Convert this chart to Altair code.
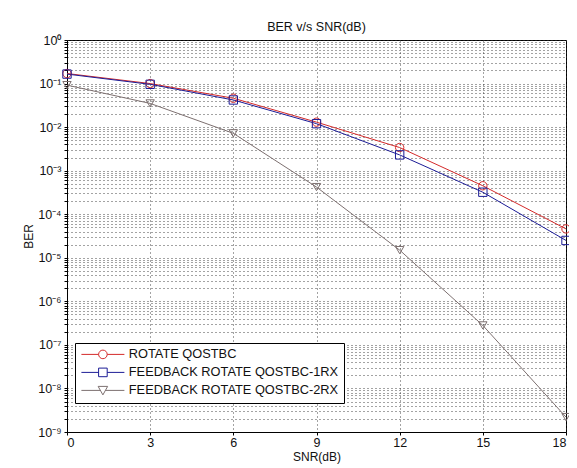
import altair as alt
import pandas as pd

# ---- data ----
snr = [0, 3, 6, 9, 12, 15, 18]
series_names = ["ROTATE QOSTBC", "FEEDBACK ROTATE QOSTBC-1RX", "FEEDBACK ROTATE QOSTBC-2RX"]
ber_rotate = [0.17, 0.10, 0.046, 0.013, 0.0034, 4.5e-4, 4.6e-5]
ber_fb_1rx = [0.165, 0.096, 0.042, 0.012, 0.0023, 3.2e-4, 2.5e-5]
ber_fb_2rx = [0.092, 0.035, 0.0072, 4.2e-4, 1.5e-5, 2.8e-7, 2.2e-9]

x_ticks = [0, 3, 6, 9, 12, 15, 18]
y_tick_labels = ["10⁰", "10⁻¹", "10⁻²", "10⁻³", "10⁻⁴", "10⁻⁵", "10⁻⁶", "10⁻⁷", "10⁻⁸", "10⁻⁹"]

colors = ["#d42a2a", "#1c1c96", "#7d7070"]
plot_shapes = ["circle", "square", "triangle-down"]
# legend glyphs: line segment with the marker in the middle (unit = 5 px)
legend_shapes = [
    "M-1,0H2.44M4.16,0H7.6M4.16,0A0.86,0.86 0 1,1 2.44,0A0.86,0.86 0 1,1 4.16,0Z",
    "M-1,0H2.44M4.16,0H7.6M2.44,-0.86H4.16V0.86H2.44Z",
    "M-1,0H2.8M3.8,0H7.6M2.35,-0.8H4.25L3.3,0.9Z",
]

rows = []
for name, vals in zip(series_names, [ber_rotate, ber_fb_1rx, ber_fb_2rx]):
    for x, v in zip(snr, vals):
        rows.append({"snr": x, "ber": v, "series": name})
df = pd.DataFrame(rows)

# y grid values: decades plus minor 2..9
y_values = []
for e in range(-9, 1):
    for m in range(1, 10):
        v = m * 10.0 ** e
        if v <= 1.0 + 1e-12:
            y_values.append(float(f"{v:.12g}"))

label_array = "[" + ",".join("'" + s + "'" for s in y_tick_labels) + "]"
label_expr = (
    "abs(log(datum.value)/LN10 - round(log(datum.value)/LN10)) < 1e-6 ? "
    + label_array + "[-round(log(datum.value)/LN10)] : ''"
)

font = "Liberation Sans"

x_enc = alt.X(
    "snr:Q",
    scale=alt.Scale(domain=[0, 18], nice=False),
    axis=alt.Axis(
        values=x_ticks, title="SNR(dB)", format="d",
        grid=True, gridDash=[1, 3], gridColor="#333", gridOpacity=0.9,
        domainColor="black", tickColor="black", tickSize=3,
        labelFontSize=12.5, labelColor="#111", labelPadding=1,
        titleFontSize=12, titleFontWeight="normal", titleColor="#111", titlePadding=3,
        labelFont=font, titleFont=font,
    ),
)
y_enc = alt.Y(
    "ber:Q",
    scale=alt.Scale(type="log", domain=[1e-9, 1], nice=False),
    axis=alt.Axis(
        values=y_values, labelExpr=label_expr, title="BER",
        grid=True, gridDash=[1, 3], gridColor="#333", gridOpacity=0.9,
        domainColor="black", tickColor="black", tickSize=3,
        labelFontSize=12.5, labelColor="#111", labelPadding=3,
        titleFontSize=12, titleFontWeight="normal", titleColor="#111", titlePadding=2,
        labelFont=font, titleFont=font,
    ),
)

color_scale = alt.Scale(domain=series_names, range=colors)

lines = alt.Chart(df).mark_line(strokeWidth=1).encode(
    x=x_enc, y=y_enc,
    color=alt.Color("series:N", scale=color_scale, legend=None),
)

points = alt.Chart(df).mark_point(filled=False, size=70, strokeWidth=1, opacity=1).encode(
    x="snr:Q", y="ber:Q",
    color=alt.Color("series:N", scale=color_scale, legend=None),
    shape=alt.Shape("series:N", scale=alt.Scale(domain=series_names, range=plot_shapes), legend=None),
)

legend_layer = alt.Chart(df).mark_point(filled=False, opacity=0).encode(
    x="snr:Q", y="ber:Q",
    color=alt.Color("series:N", scale=color_scale, legend=alt.Legend(title=None)),
    shape=alt.Shape(
        "series:N",
        scale=alt.Scale(domain=series_names, range=legend_shapes),
        legend=alt.Legend(title=None),
    ),
)

chart = (
    alt.layer(lines, points, legend_layer)
    .resolve_scale(shape="independent", color="independent")
    .properties(
        width=499, height=392,
        autosize=alt.AutoSizeParams(type="none"),
        padding={"left": 59, "top": 32, "right": 3, "bottom": 36},
        title=alt.TitleParams(
            "BER v/s SNR(dB)", fontSize=12.5, fontWeight="normal", font=font,
            color="#111", anchor="middle", offset=1,
        ),
        background="white",
    )
    .configure_view(stroke="black", strokeWidth=1)
    .configure_legend(
        orient="none", legendX=8, legendY=303,
        strokeColor="black", fillColor="white", padding=5,
        symbolSize=100, symbolStrokeWidth=1, symbolOpacity=1, symbolFillColor="white",
        labelFontSize=12.8, labelFont=font, labelColor="#111", labelOffset=36,
        rowPadding=4, labelLimit=400,
    )
)

chart.save("out.html", embed_options={"renderer": "svg", "actions": False})
